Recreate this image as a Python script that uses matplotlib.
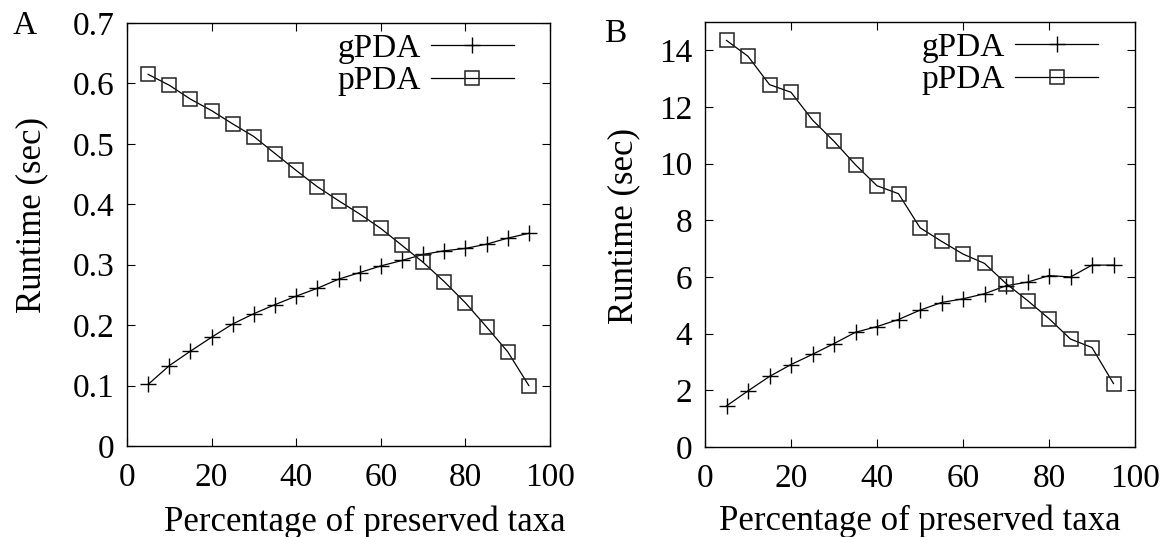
import matplotlib
matplotlib.use("Agg")
import matplotlib.pyplot as plt

plt.rcParams['font.family'] = ['Liberation Serif', 'DejaVu Serif']

# percentage of preserved taxa
taxa_pct = [5, 10, 15, 20, 25, 30, 35, 40, 45, 50, 55, 60, 65, 70, 75, 80, 85, 90, 95]

# panel A runtimes (sec)
gpda_a = [0.102, 0.133, 0.157, 0.180, 0.202, 0.219, 0.234, 0.248, 0.261, 0.276,
          0.287, 0.298, 0.307, 0.317, 0.323, 0.327, 0.334, 0.344, 0.352]
ppda_a = [0.615, 0.597, 0.574, 0.555, 0.533, 0.512, 0.484, 0.456, 0.429, 0.406,
          0.384, 0.360, 0.332, 0.304, 0.272, 0.237, 0.197, 0.156, 0.100]

# panel B runtimes (sec)
gpda_b = [1.45, 1.98, 2.49, 2.91, 3.27, 3.65, 4.05, 4.25, 4.50, 4.83,
          5.10, 5.23, 5.41, 5.69, 5.82, 6.05, 6.00, 6.42, 6.42]
ppda_b = [14.35, 13.79, 12.79, 12.52, 11.54, 10.79, 9.96, 9.22, 8.94, 7.74,
          7.26, 6.81, 6.48, 5.77, 5.17, 4.53, 3.81, 3.51, 2.24]

xticks = [0, 20, 40, 60, 80, 100]
yticks_a = [0, 0.1, 0.2, 0.3, 0.4, 0.5, 0.6, 0.7]
yticks_b = [0, 2, 4, 6, 8, 10, 12, 14]

W, H = 1170, 537
fig = plt.figure(figsize=(W / 100, H / 100), dpi=100)


def px_axes(left, top, right, bottom):
    return fig.add_axes([left / W, 1 - bottom / H, (right - left) / W, (bottom - top) / H])


def style_panel(ax, yticks, ylim, ylabel_pos, xlabel_pos):
    ax.set_xlim(0, 100)
    ax.set_ylim(*ylim)
    ax.set_xticks(xticks)
    ax.set_yticks(yticks)
    ax.set_yticklabels([f"{t:g}" for t in yticks])
    ax.tick_params(direction='in', length=6, width=0.8, top=True, right=True,
                   labelsize=24)
    ax.tick_params(axis='x', pad=12)
    ax.tick_params(axis='y', pad=9)
    for s in ax.spines.values():
        s.set_linewidth(1.0)
    ax.set_ylabel("Runtime (sec)", fontsize=25, va='center', ha='center')
    ax.yaxis.set_label_coords(*ylabel_pos)
    ax.set_xlabel("Percentage of preserved taxa", fontsize=25, va='baseline', ha='center')
    ax.xaxis.set_label_coords(*xlabel_pos)
    # gnuplot-like key: text first, then the sample
    ax.legend(loc='upper right', bbox_to_anchor=(0.915, 0.975), frameon=False,
              markerfirst=False, fontsize=24, handlelength=2.5, handletextpad=0.3,
              borderpad=0, borderaxespad=0, labelspacing=0.05)


panels = [
    (px_axes(127, 23, 550, 446), gpda_a, ppda_a, yticks_a, (0, 0.7), (-0.225, 0.545), (0.562, -0.2)),
    (px_axes(705, 22, 1135, 447), gpda_b, ppda_b, yticks_b, (0, 15), (-0.188, 0.52), (0.500, -0.195)),
]

for ax, gpda, ppda, yticks, ylim, ylab, xlab in panels:
    ax.plot(taxa_pct, gpda, color='black', lw=0.9, marker='+', ms=11, mew=1.0, label='gPDA')
    ax.plot(taxa_pct, ppda, color='black', lw=0.9, marker='s', ms=10, mew=1.1,
            mfc='none', mec='#222222', label='pPDA')
    style_panel(ax, yticks, ylim, ylab, xlab)

fig.text(25 / W, 1 - 26 / H, "A", fontsize=24, ha='center', va='center')
fig.text(615 / W, 1 - 34 / H, "B", fontsize=24, ha='center', va='center')

fig.savefig("out.png", dpi=100)
